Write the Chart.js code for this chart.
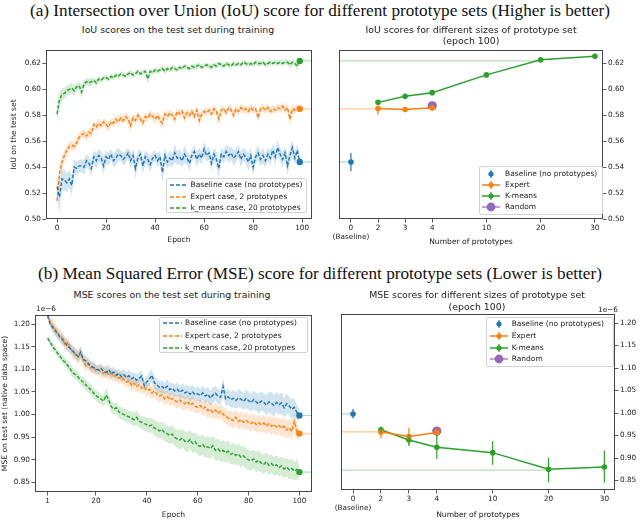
<!DOCTYPE html>
<html><head><meta charset="utf-8">
<script src="https://cdn.jsdelivr.net/npm/chart.js@4.4.0/dist/chart.umd.min.js"></script>
<style>
body{margin:0;background:#fff;width:640px;height:520px;position:relative;overflow:hidden;font-family:'DejaVu Sans',sans-serif;color:#222}
canvas{position:absolute}
.sec{position:absolute;left:0;width:640px;text-align:center;font-family:'Liberation Serif','Times New Roman',serif;font-size:17.2px;line-height:19px;white-space:nowrap;color:#111}
.ttl{position:absolute;text-align:center;font-size:9.4px;line-height:11px;white-space:nowrap;transform:translateX(-50%);color:#222}
.leg{position:absolute;background:rgba(255,255,255,0.85);border:1px solid #d2d2d2;border-radius:2px;font-size:7.5px;box-sizing:border-box}
.off{position:absolute;font-size:7.3px;line-height:9px;color:#222;white-space:nowrap}
</style></head>
<body>
<canvas id="c1" width="320" height="212" style="left:0px;top:44px"></canvas>
<canvas id="c2" width="320" height="212" style="left:320px;top:44px"></canvas>
<canvas id="c3" width="320" height="216" style="left:0px;top:304px"></canvas>
<canvas id="c4" width="320" height="216" style="left:320px;top:304px"></canvas>
<div class="sec" style="top:0.5px">(a) Intersection over Union (IoU) score for different prototype sets (Higher is better)</div>
<div class="sec" style="top:263.5px">(b) Mean Squared Error (MSE) score for different prototype sets (Lower is better)</div>
<div class="ttl" style="left:178px;top:23.5px">IoU scores on the test set during training</div>
<div class="ttl" style="left:471px;top:23.5px">IoU scores for different sizes of prototype set<br>(epoch 100)</div>
<div class="ttl" style="left:172px;top:288.5px">MSE scores on the test set during training</div>
<div class="ttl" style="left:477px;top:289px;line-height:12px">MSE scores for different sizes of prototype set<br>(epoch 100)</div>
<div class="off" style="left:36px;top:303.5px">1e−6</div>
<div class="off" style="left:598px;top:304.5px">1e−6</div>
<script>
// ---------------- DATA ----------------
// Training curves, IoU (epochs 0..99)
const iouBase = [0.525,0.517,0.531,0.530,0.528,0.531,0.526,0.540,0.539,0.541,
0.541,0.540,0.545,0.543,0.539,0.548,0.545,0.549,0.547,0.541,
0.548,0.546,0.550,0.545,0.547,0.550,0.549,0.546,0.548,0.551,
0.545,0.549,0.539,0.547,0.550,0.541,0.548,0.546,0.542,0.547,
0.549,0.545,0.548,0.536,0.549,0.544,0.547,0.545,0.551,0.547,
0.548,0.545,0.550,0.547,0.543,0.549,0.552,0.546,0.550,0.547,
0.554,0.549,0.551,0.543,0.550,0.546,0.539,0.550,0.548,0.552,
0.549,0.551,0.547,0.549,0.552,0.546,0.550,0.548,0.544,0.549,
0.540,0.548,0.551,0.546,0.549,0.545,0.550,0.547,0.553,0.548,
0.555,0.550,0.546,0.551,0.541,0.549,0.555,0.547,0.553,0.544];
const iouExp = [0.514,0.535,0.544,0.549,0.553,0.556,0.557,0.556,0.559,0.563,
0.565,0.566,0.564,0.567,0.566,0.573,0.571,0.574,0.572,0.575,
0.573,0.571,0.575,0.574,0.577,0.575,0.578,0.576,0.579,0.577,
0.572,0.578,0.576,0.580,0.577,0.574,0.579,0.578,0.581,0.579,
0.577,0.580,0.576,0.574,0.581,0.579,0.582,0.580,0.577,0.583,
0.581,0.583,0.578,0.582,0.580,0.583,0.579,0.584,0.576,0.581,
0.583,0.582,0.584,0.581,0.585,0.583,0.577,0.584,0.585,0.582,
0.586,0.584,0.580,0.585,0.583,0.586,0.584,0.585,0.583,0.586,
0.584,0.585,0.578,0.585,0.586,0.584,0.586,0.583,0.585,0.584,
0.586,0.585,0.587,0.584,0.586,0.577,0.585,0.584,0.586,0.585];
const iouKm = [0.581,0.592,0.596,0.597,0.599,0.600,0.601,0.599,0.602,0.603,
0.598,0.604,0.606,0.605,0.606,0.607,0.605,0.608,0.607,0.609,
0.609,0.608,0.610,0.609,0.611,0.610,0.612,0.611,0.610,0.612,
0.613,0.611,0.612,0.614,0.612,0.613,0.614,0.608,0.614,0.613,
0.615,0.614,0.615,0.616,0.614,0.616,0.615,0.617,0.616,0.615,
0.617,0.616,0.618,0.617,0.616,0.618,0.617,0.618,0.619,0.617,
0.618,0.619,0.618,0.617,0.619,0.618,0.620,0.619,0.618,0.620,
0.619,0.618,0.620,0.619,0.620,0.619,0.621,0.620,0.619,0.620,
0.619,0.621,0.620,0.620,0.621,0.619,0.620,0.621,0.620,0.621,
0.620,0.621,0.620,0.621,0.621,0.619,0.621,0.620,0.618,0.622];
// half-width of the shaded bands
const iouBaseSpread = [0.006,0.012,0.009,0.008,0.007,0.007,0.008,0.006,0.005,0.005,
0.005,0.006,0.005,0.005,0.006,0.005,0.006,0.005,0.005,0.007,
0.005,0.005,0.004,0.005,0.006,0.005,0.004,0.005,0.005,0.004,
0.006,0.005,0.008,0.005,0.004,0.006,0.005,0.005,0.006,0.005,
0.004,0.005,0.005,0.009,0.006,0.005,0.006,0.005,0.007,0.005,
0.006,0.005,0.007,0.005,0.006,0.005,0.005,0.006,0.005,0.005,
0.006,0.005,0.005,0.006,0.005,0.006,0.007,0.005,0.005,0.005,
0.006,0.005,0.006,0.005,0.005,0.006,0.005,0.005,0.007,0.006,
0.006,0.005,0.006,0.005,0.006,0.005,0.005,0.006,0.005,0.006,
0.006,0.005,0.006,0.005,0.007,0.006,0.006,0.005,0.005,0.004];
const iouExpSpread = [0.004,0.006,0.005,0.004,0.004,0.003,0.004,0.003,0.004,0.004,
0.003,0.003,0.004,0.003,0.004,0.003,0.003,0.004,0.003,0.003,
0.003,0.004,0.003,0.003,0.003,0.004,0.003,0.003,0.003,0.004,
0.005,0.003,0.004,0.003,0.003,0.004,0.003,0.003,0.003,0.003,
0.004,0.003,0.004,0.005,0.003,0.003,0.003,0.003,0.004,0.003,
0.003,0.003,0.004,0.003,0.003,0.003,0.004,0.003,0.005,0.003,
0.003,0.003,0.003,0.004,0.003,0.003,0.004,0.003,0.003,0.003,
0.003,0.003,0.004,0.003,0.003,0.003,0.003,0.003,0.003,0.003,
0.003,0.003,0.004,0.003,0.003,0.003,0.003,0.003,0.003,0.003,
0.003,0.003,0.003,0.003,0.003,0.005,0.003,0.003,0.003,0.003];
const iouKmSpread = [0.007,0.006,0.005,0.004,0.004,0.004,0.004,0.004,0.003,0.003,
0.005,0.003,0.003,0.003,0.003,0.002,0.003,0.002,0.002,0.002,
0.002,0.002,0.002,0.002,0.002,0.002,0.002,0.002,0.002,0.002,
0.002,0.002,0.002,0.002,0.002,0.002,0.002,0.004,0.002,0.002,
0.002,0.002,0.002,0.002,0.002,0.002,0.002,0.002,0.002,0.002,
0.002,0.002,0.002,0.002,0.002,0.002,0.002,0.002,0.002,0.002,
0.002,0.002,0.002,0.002,0.002,0.002,0.002,0.002,0.002,0.002,
0.002,0.002,0.002,0.002,0.002,0.002,0.002,0.002,0.002,0.002,
0.002,0.002,0.002,0.002,0.002,0.002,0.002,0.002,0.002,0.002,
0.002,0.002,0.002,0.002,0.002,0.003,0.002,0.002,0.003,0.002];

// Training curves, MSE in units of 1e-6 (epochs 1..100)
const mseBase = [1.218,1.200,1.193,1.185,1.178,1.170,1.165,1.158,1.150,1.146,
1.140,1.134,1.128,1.138,1.122,1.119,1.112,1.107,1.104,1.101,
1.098,1.102,1.096,1.093,1.099,1.090,1.094,1.087,1.091,1.084,
1.088,1.082,1.086,1.079,1.083,1.076,1.080,1.085,1.064,1.072,
1.078,1.087,1.070,1.066,1.060,1.062,1.057,1.063,1.055,1.058,
1.052,1.056,1.049,1.054,1.048,1.051,1.045,1.050,1.044,1.046,
1.042,1.048,1.041,1.045,1.036,1.043,1.047,1.040,1.038,1.062,
1.035,1.039,1.033,1.036,1.031,1.037,1.034,1.029,1.035,1.031,
1.026,1.033,1.028,1.024,1.030,1.027,1.021,1.028,1.025,1.020,
1.027,1.022,1.026,1.015,1.024,1.019,1.012,1.016,1.005,0.998];
const mseExp = [1.222,1.205,1.196,1.188,1.180,1.172,1.168,1.152,1.160,1.146,
1.138,1.133,1.127,1.136,1.120,1.108,1.114,1.103,1.106,1.097,
1.099,1.094,1.092,1.096,1.088,1.091,1.084,1.087,1.080,1.083,
1.077,1.072,1.075,1.064,1.069,1.062,1.066,1.058,1.061,1.053,
1.056,1.048,1.052,1.045,1.041,1.044,1.035,1.040,1.033,1.036,
1.031,1.028,1.032,1.026,1.024,1.029,1.021,1.025,1.018,1.016,
1.020,1.013,1.017,1.009,1.012,1.005,1.010,1.003,1.007,1.001,
0.996,0.992,0.990,0.987,0.994,0.985,0.989,0.983,0.987,0.983,
0.980,0.985,0.978,0.982,0.977,0.981,0.975,0.980,0.974,0.978,
0.972,0.976,0.970,0.974,0.966,0.971,0.963,0.985,0.962,0.958];
const mseKm = [1.169,1.160,1.150,1.143,1.135,1.128,1.120,1.115,1.108,1.100,
1.092,1.088,1.083,1.076,1.072,1.066,1.060,1.055,1.048,1.042,
1.038,1.034,1.030,1.043,1.033,1.018,1.012,1.015,1.006,1.003,
1.000,0.997,0.995,0.992,0.989,0.994,0.986,0.983,0.980,0.978,
0.975,0.977,0.970,0.968,0.964,0.967,0.960,0.958,0.954,0.957,
0.950,0.946,0.944,0.948,0.941,0.939,0.945,0.936,0.940,0.932,
0.930,0.934,0.927,0.929,0.925,0.931,0.921,0.924,0.918,0.921,
0.916,0.919,0.912,0.915,0.910,0.913,0.906,0.909,0.903,0.900,
0.898,0.902,0.895,0.899,0.893,0.890,0.896,0.888,0.892,0.886,
0.889,0.883,0.887,0.880,0.884,0.878,0.881,0.875,0.879,0.873];
const mseBaseSpread = [0.006,0.008,0.010,0.010,0.012,0.010,0.012,0.011,0.012,0.010,
0.012,0.011,0.012,0.014,0.011,0.012,0.010,0.012,0.011,0.010,
0.010,0.012,0.011,0.010,0.012,0.011,0.012,0.010,0.011,0.012,
0.012,0.011,0.013,0.012,0.011,0.014,0.012,0.013,0.012,0.013,
0.014,0.015,0.013,0.014,0.013,0.014,0.013,0.015,0.014,0.013,
0.014,0.015,0.014,0.016,0.015,0.014,0.016,0.015,0.014,0.016,
0.015,0.016,0.015,0.017,0.016,0.018,0.016,0.017,0.016,0.020,
0.017,0.018,0.017,0.019,0.018,0.020,0.019,0.018,0.021,0.020,
0.019,0.021,0.020,0.022,0.021,0.020,0.023,0.022,0.025,0.024,
0.023,0.022,0.024,0.021,0.023,0.020,0.022,0.019,0.017,0.012];
const mseExpSpread = [0.008,0.012,0.015,0.014,0.012,0.013,0.014,0.015,0.013,0.012,
0.014,0.013,0.015,0.014,0.012,0.013,0.014,0.012,0.013,0.012,
0.012,0.013,0.012,0.014,0.012,0.013,0.012,0.014,0.013,0.012,
0.013,0.012,0.014,0.013,0.012,0.013,0.014,0.013,0.012,0.014,
0.013,0.014,0.013,0.015,0.014,0.013,0.015,0.014,0.013,0.015,
0.014,0.015,0.014,0.016,0.015,0.014,0.015,0.016,0.015,0.014,
0.015,0.016,0.015,0.017,0.016,0.015,0.017,0.016,0.015,0.016,
0.017,0.016,0.018,0.017,0.016,0.018,0.017,0.016,0.018,0.017,
0.018,0.017,0.019,0.018,0.017,0.019,0.018,0.017,0.019,0.018,
0.019,0.018,0.020,0.019,0.018,0.020,0.019,0.021,0.018,0.012];
const mseKmSpread = [0.006,0.007,0.008,0.008,0.008,0.009,0.009,0.010,0.010,0.010,
0.011,0.010,0.011,0.010,0.011,0.012,0.011,0.012,0.011,0.012,
0.012,0.011,0.012,0.016,0.013,0.012,0.013,0.012,0.013,0.014,
0.013,0.014,0.013,0.014,0.015,0.016,0.015,0.014,0.015,0.016,
0.017,0.016,0.017,0.018,0.017,0.018,0.019,0.018,0.019,0.020,
0.019,0.020,0.021,0.020,0.021,0.022,0.021,0.022,0.021,0.022,
0.022,0.023,0.022,0.024,0.023,0.022,0.024,0.023,0.022,0.023,
0.023,0.024,0.022,0.023,0.022,0.023,0.024,0.022,0.023,0.022,
0.022,0.021,0.022,0.023,0.021,0.022,0.021,0.022,0.020,0.021,
0.022,0.020,0.021,0.022,0.020,0.021,0.022,0.020,0.024,0.012];

// Prototype-size panels
const protoCounts = [0, 2, 3, 4, 10, 20, 30];     // tick labels
const protoSlots  = [0, 1, 2, 3, 5, 7, 9];        // axis slot for each count
const expertCounts = [2, 3, 4];
const kmeansCounts = [2, 3, 4, 10, 20, 30];
const randomCounts = [4];

const iouSizeBase = [0.544], iouSizeBaseLo = [0.537], iouSizeBaseHi = [0.551];
const iouSizeExp = [0.5853, 0.5845, 0.5858];
const iouSizeExpLo = [0.5805, 0.5838, 0.5840];
const iouSizeExpHi = [0.5870, 0.5853, 0.5875];
const iouSizeKm = [0.5900, 0.5947, 0.5975, 0.6112, 0.6228, 0.6255];
const iouSizeKmLo = [0.5893, 0.5940, 0.5968, 0.6105, 0.6222, 0.6249];
const iouSizeKmHi = [0.5907, 0.5954, 0.5982, 0.6119, 0.6234, 0.6261];
const iouSizeRand = [0.5873];

const mseSizeBase = [0.998], mseSizeBaseLo = [0.988], mseSizeBaseHi = [1.009];
const mseSizeExp = [0.958, 0.948, 0.957];
const mseSizeExpLo = [0.944, 0.930, 0.947];
const mseSizeExpHi = [0.968, 0.967, 0.966];
const mseSizeKm = [0.963, 0.940, 0.924, 0.912, 0.875, 0.880];
const mseSizeKmLo = [0.956, 0.927, 0.898, 0.885, 0.846, 0.845];
const mseSizeKmHi = [0.970, 0.952, 0.951, 0.938, 0.901, 0.916];
const mseSizeRand = [0.960];

// Tick values
const iouEpochTicks = [0, 20, 40, 60, 80, 100];
const mseEpochTicks = [1, 20, 40, 60, 80, 100];
const iouTicks = [0.50, 0.52, 0.54, 0.56, 0.58, 0.60, 0.62];
const mseTicks = [0.85, 0.90, 0.95, 1.00, 1.05, 1.10, 1.15, 1.20];

const epochsIoU = iouBase.map((_, i) => i);
const epochsMSE = mseBase.map((_, i) => i + 1);

// ---------------- STYLE ----------------
const C = {blue:'#1f77b4', orange:'#ff7f0e', green:'#2ca02c', purple:'#9467bd'};
const AX = '#333', TXT = '#222';
const tickFont = {family:'DejaVu Sans', size:7.3};
const labFont = {family:'DejaVu Sans', size:7.6};
function rgba(hex, a){const n=parseInt(hex.slice(1),16);return `rgba(${n>>16&255},${n>>8&255},${n&255},${a})`;}
Chart.defaults.font.family = 'DejaVu Sans';

const framePlugin = {id:'frame', afterDraw(chart){
  const {ctx, chartArea:a} = chart; ctx.save();
  ctx.strokeStyle = AX; ctx.lineWidth = 0.9;
  ctx.strokeRect(Math.round(a.left)+0.5, Math.round(a.top)+0.5, Math.round(a.right-a.left)-1, Math.round(a.bottom-a.top)-1);
  ctx.restore();
}};
const errPlugin = {id:'errbars', afterDatasetsDraw(chart){
  const {ctx, scales:{x, y}, chartArea:a} = chart;
  ctx.save(); ctx.beginPath(); ctx.rect(a.left, a.top, a.right-a.left, a.bottom-a.top); ctx.clip();
  chart.data.datasets.forEach(ds => {
    if (!ds.errLo) return;
    ctx.strokeStyle = ds.pointBackgroundColor; ctx.lineWidth = 1.2;
    ds.data.forEach((p, j) => {
      const px = x.getPixelForValue(p.x);
      ctx.beginPath(); ctx.moveTo(px, y.getPixelForValue(ds.errLo[j])); ctx.lineTo(px, y.getPixelForValue(ds.errHi[j])); ctx.stroke();
    });
  });
  ctx.restore();
}};

function axisX(min, max, ticks, fmt, height, title, pb){
  return {type:'linear', min, max,
    afterBuildTicks: s => { s.ticks = ticks.map(v => ({value:v})); },
    afterFit: s => { s.height = height; },
    grid:{drawOnChartArea:false, drawTicks:true, tickLength:3.5, color:AX, lineWidth:0.8},
    border:{display:false},
    ticks:{font:tickFont, color:TXT, padding:1.5, maxRotation:0, autoSkip:false, callback: fmt},
    title:{display:true, text:title, font:labFont, color:TXT, padding:{top:0, bottom:pb}}};
}
function axisY(pos, min, max, ticks, width, title, pt){
  return {type:'linear', position:pos, min, max,
    afterBuildTicks: s => { s.ticks = ticks.map(v => ({value:v})); },
    afterFit: s => { s.width = width; },
    grid:{drawOnChartArea:false, drawTicks:true, tickLength:3.5, color:AX, lineWidth:0.8},
    border:{display:false},
    ticks:{font:tickFont, color:TXT, padding:1.5, autoSkip:false, callback: v => v.toFixed(2)},
    title:{display: !!title, text:title || '', font:labFont, color:TXT, padding:{top:pt, bottom:0}}};
}
function curveSets(xs, vals, spread, color, xmax){
  const last = vals.length - 1;
  return [
    {data: vals.map((v,i)=>({x:xs[i], y:v-spread[i]})), borderColor:'transparent', borderWidth:0, pointRadius:0, fill:false, order:3},
    {data: vals.map((v,i)=>({x:xs[i], y:v+spread[i]})), borderColor:'transparent', borderWidth:0, pointRadius:0, fill:'-1', backgroundColor:rgba(color,0.2), order:3},
    {data: [{x:xs[last], y:vals[last]}, {x:xmax, y:vals[last]}], borderColor:rgba(color,0.35), borderWidth:1.2, pointRadius:0, fill:false, order:2},
    {data: vals.map((v,i)=>({x:xs[i], y:v})), borderColor:color, borderWidth:1.45, borderDash:[3.6,1.8], fill:false, order:1,
     pointRadius: c => c.dataIndex === last ? 3.2 : 0, pointBackgroundColor:color, pointBorderColor:color, pointBorderWidth:0}
  ];
}
const slotOf = n => protoSlots[protoCounts.indexOf(n)];
function sizeSets(base, baseLo, baseHi, exp, expLo, expHi, km, kmLo, kmHi, rand, refBase, refExp, refKm, xmin){
  return [
    {data:[{x:xmin,y:refBase},{x:slotOf(0),y:refBase}], borderColor:rgba(C.blue,0.35), borderWidth:1.2, pointRadius:0, order:6},
    {data:[{x:xmin,y:refExp},{x:slotOf(expertCounts[0]),y:refExp}], borderColor:rgba(C.orange,0.45), borderWidth:1.2, pointRadius:0, order:6},
    {data:[{x:xmin,y:refKm},{x:slotOf(20),y:refKm}], borderColor:rgba(C.green,0.35), borderWidth:1.2, pointRadius:0, order:6},
    {data:[{x:slotOf(0), y:base[0]}], showLine:false, pointRadius:2.8, pointBackgroundColor:C.blue, pointBorderWidth:0, borderColor:C.blue, errLo:baseLo, errHi:baseHi, order:1},
    {data: expertCounts.map((n,i)=>({x:slotOf(n), y:exp[i]})), borderColor:C.orange, borderWidth:1.5, pointRadius:2.8, pointBackgroundColor:C.orange, pointBorderWidth:0, errLo:expLo, errHi:expHi, order:1},
    {data: kmeansCounts.map((n,i)=>({x:slotOf(n), y:km[i]})), borderColor:C.green, borderWidth:1.5, pointRadius:2.8, pointBackgroundColor:C.green, pointBorderWidth:0, errLo:kmLo, errHi:kmHi, order:2},
    {data: randomCounts.map((n,i)=>({x:slotOf(n), y:rand[i]})), showLine:false, borderColor:C.purple, pointRadius:4.6, pointBackgroundColor:C.purple, pointBorderWidth:0, order:4}
  ];
}
const protoFmt = v => { const k = protoSlots.indexOf(v); if (k < 0) return ''; return protoCounts[k] === 0 ? ['0','(Baseline)'] : String(protoCounts[k]); };
function baseOpts(padding, scales){
  return {type:'line', options:{responsive:false, animation:false, devicePixelRatio:1,
    layout:{padding}, plugins:{legend:{display:false}, tooltip:{enabled:false}},
    elements:{line:{tension:0}}, scales}, plugins:[framePlugin, errPlugin]};
}

// Panel 1
const X1 = {min:-4.5, max:104};
new Chart(document.getElementById('c1'), Object.assign(baseOpts({left:0,right:8,top:4,bottom:0}, {
  x: axisX(X1.min, X1.max, iouEpochTicks, v=>String(v), 37, 'Epoch', 11.4),
  y: axisY('left', 0.50, 0.6305, iouTicks, 46, 'IoU on the test set', 9.4)
}), {data:{datasets:[
  ...curveSets(epochsIoU, iouBase, iouBaseSpread, C.blue, X1.max),
  ...curveSets(epochsIoU, iouExp, iouExpSpread, C.orange, X1.max),
  ...curveSets(epochsIoU, iouKm, iouKmSpread, C.green, X1.max)
]}}));

// Panel 2
const X2 = {min:-0.44, max:9.3};
new Chart(document.getElementById('c2'), Object.assign(baseOpts({left:19,right:0,top:3,bottom:0}, {
  x: axisX(X2.min, X2.max, protoSlots, protoFmt, 37, 'Number of prototypes', 9.4),
  y: axisY('right', 0.50, 0.6305, iouTicks, 37, '', 0)
}), {data:{datasets: sizeSets(iouSizeBase, iouSizeBaseLo, iouSizeBaseHi, iouSizeExp, iouSizeExpLo, iouSizeExpHi,
  iouSizeKm, iouSizeKmLo, iouSizeKmHi, iouSizeRand, iouBase[iouBase.length-1], iouExp[iouExp.length-1], iouKm[iouKm.length-1], X2.min)}}));

// Panel 3
const X3 = {min:-3.95, max:104.95};
new Chart(document.getElementById('c3'), Object.assign(baseOpts({left:0,right:8,top:11,bottom:0}, {
  x: axisX(X3.min, X3.max, mseEpochTicks, v=>String(v), 28, 'Epoch', 0.4),
  y: axisY('left', 0.829, 1.220, mseTicks, 35, 'MSE on test set (native data space)', 0)
}), {data:{datasets:[
  ...curveSets(epochsMSE, mseBase, mseBaseSpread, C.blue, X3.max),
  ...curveSets(epochsMSE, mseExp, mseExpSpread, C.orange, X3.max),
  ...curveSets(epochsMSE, mseKm, mseKmSpread, C.green, X3.max)
]}}));

// Panel 4
const X4 = {min:-0.43, max:9.38};
new Chart(document.getElementById('c4'), Object.assign(baseOpts({left:21,right:0,top:10,bottom:0}, {
  x: axisX(X4.min, X4.max, protoSlots, protoFmt, 30, 'Number of prototypes', 0),
  y: axisY('right', 0.829, 1.220, mseTicks, 25, '', 0)
}), {data:{datasets: sizeSets(mseSizeBase, mseSizeBaseLo, mseSizeBaseHi, mseSizeExp, mseSizeExpLo, mseSizeExpHi,
  mseSizeKm, mseSizeKmLo, mseSizeKmHi, mseSizeRand, mseBase[mseBase.length-1], mseExp[mseExp.length-1], mseKm[mseKm.length-1], X4.min)}}));

// ---------------- LEGENDS (HTML) ----------------
function sample(kind, color, w){
  const m = w/2;
  if (kind === 'dash') return `<svg width="${w}" height="10"><line x1="0" y1="5" x2="${w}" y2="5" stroke="${color}" stroke-width="1.5" stroke-dasharray="4 2"/></svg>`;
  if (kind === 'err') return `<svg width="${w}" height="10"><line x1="${m}" y1="1" x2="${m}" y2="9" stroke="${color}" stroke-width="1.2"/><circle cx="${m}" cy="5" r="2.6" fill="${color}"/></svg>`;
  if (kind === 'lineerr') return `<svg width="${w}" height="10"><line x1="0" y1="5" x2="${w}" y2="5" stroke="${color}" stroke-width="1.5"/><line x1="${m}" y1="1" x2="${m}" y2="9" stroke="${color}" stroke-width="1.2"/><circle cx="${m}" cy="5" r="2.6" fill="${color}"/></svg>`;
  return `<svg width="${w}" height="10"><line x1="0" y1="5" x2="${w}" y2="5" stroke="${color}" stroke-width="1.2"/><circle cx="${m}" cy="5" r="4.4" fill="${color}"/></svg>`;
}
function legend(box, items){
  const d = document.createElement('div'); d.className = 'leg';
  Object.assign(d.style, {left:box.x+'px', top:box.y+'px', width:box.w+'px', height:box.h+'px'});
  items.forEach((it, k) => {
    const cy = box.rows[k];
    const s = document.createElement('div');
    s.style.cssText = `position:absolute;left:${box.sx}px;top:${cy-5}px;width:${box.sw}px;height:10px`;
    s.innerHTML = sample(it.kind, it.color, box.sw);
    const t = document.createElement('div'); t.textContent = it.label;
    t.style.cssText = `position:absolute;left:${box.tx}px;top:${cy-5}px;height:10px;line-height:10px;white-space:nowrap`;
    d.append(s, t);
  });
  document.body.appendChild(d);
}
const curveLabels = ['Baseline case (no prototypes)', 'Expert case, 2 prototypes', 'k_means case, 20 prototypes'];
const sizeLabels = ['Baseline (no prototypes)', 'Expert', 'K-means', 'Random'];
legend({x:166,y:178,w:141,h:35,rows:[6,17.7,28.7],sx:3,sw:17,tx:23.5},
  [{kind:'dash',color:C.blue,label:curveLabels[0]},{kind:'dash',color:C.orange,label:curveLabels[1]},{kind:'dash',color:C.green,label:curveLabels[2]}]);
legend({x:479,y:166,w:124,h:49,rows:[7,18,29,40.3],sx:2,sw:18,tx:25},
  [{kind:'err',color:C.blue,label:sizeLabels[0]},{kind:'lineerr',color:C.orange,label:sizeLabels[1]},{kind:'lineerr',color:C.green,label:sizeLabels[2]},{kind:'big',color:C.purple,label:sizeLabels[3]}]);
legend({x:159,y:317,w:149,h:36,rows:[5.3,18,29.7],sx:3,sw:19,tx:25},
  [{kind:'dash',color:C.blue,label:curveLabels[0]},{kind:'dash',color:C.orange,label:curveLabels[1]},{kind:'dash',color:C.green,label:curveLabels[2]}]);
legend({x:486,y:317,w:128,h:50,rows:[6.3,18,29.7,41.3],sx:3,sw:18,tx:24.7},
  [{kind:'err',color:C.blue,label:sizeLabels[0]},{kind:'lineerr',color:C.orange,label:sizeLabels[1]},{kind:'lineerr',color:C.green,label:sizeLabels[2]},{kind:'big',color:C.purple,label:sizeLabels[3]}]);
</script>
</body></html>
